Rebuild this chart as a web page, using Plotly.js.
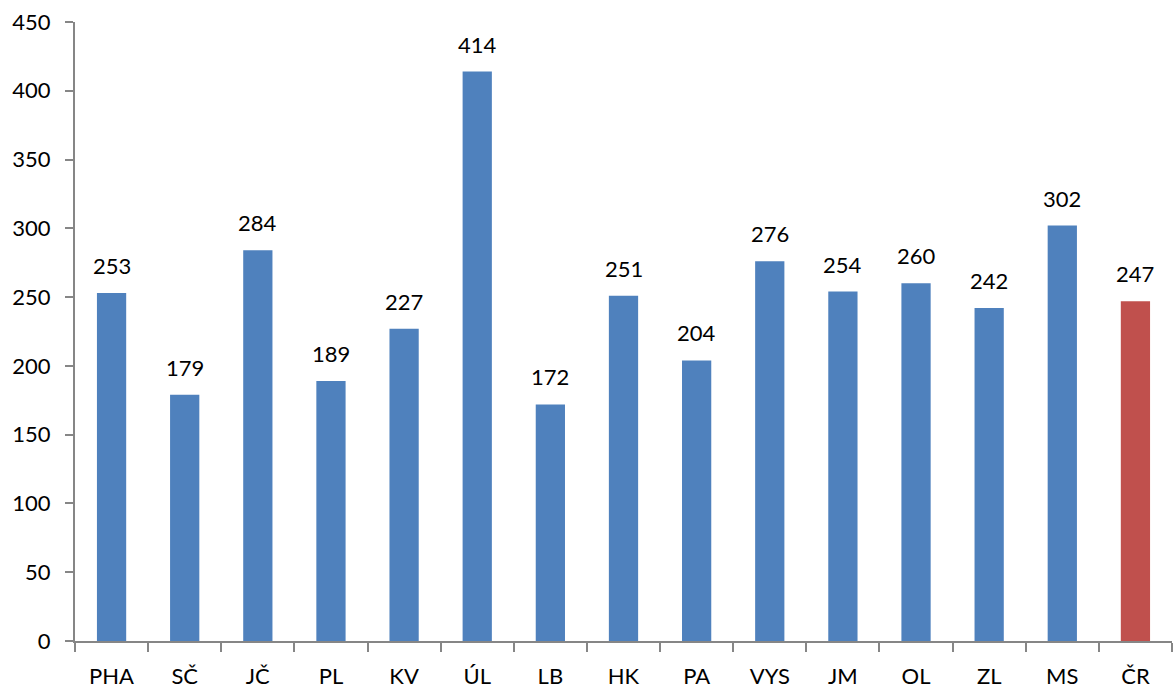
<!DOCTYPE html>
<html><head><meta charset="utf-8">
<script src="https://cdn.plot.ly/plotly-3.0.1.min.js"></script>
<style>html,body{margin:0;padding:0;background:#fff}#chart{width:1173px;height:688px}</style>
</head><body><div id="chart"></div>
<script>
const categories = ["PHA","SČ","JČ","PL","KV","ÚL","LB","HK","PA","VYS","JM","OL","ZL","MS","ČR"];
const values = [253,179,284,189,227,414,172,251,204,276,254,260,242,302,247];
const colors = categories.map(c => c === "ČR" ? "#C0504D" : "#4F81BD");
const font = {family: "Lato, 'Open Sans', sans-serif", size: 22, color: "#000"};
const annotations = categories.map((c, i) => ({
  x: c, y: values[i], xref: "x", yref: "y", text: String(values[i]),
  showarrow: false, yanchor: "bottom", yshift: 12, font: font
}));
Plotly.newPlot("chart", [{
  type: "bar", x: categories, y: values,
  marker: {color: colors}, hoverinfo: "skip"
}], {
  width: 1173, height: 688,
  margin: {l: 75, r: 1, t: 22, b: 47},
  paper_bgcolor: "#fff", plot_bgcolor: "#fff",
  bargap: 0.6, showlegend: false, font: font,
  annotations: annotations,
  xaxis: {type: "category", showline: true, linecolor: "#868686", linewidth: 2,
    ticks: "outside", tickson: "boundaries", ticklen: 9, tickcolor: "#868686", tickwidth: 2,
    ticklabelstandoff: 15,
    showgrid: false, tickfont: font, fixedrange: true},
  yaxis: {range: [0, 450], dtick: 50, showline: true, linecolor: "#868686", linewidth: 2,
    ticks: "outside", ticklen: 8, tickcolor: "#868686", tickwidth: 2,
    ticklabelstandoff: 10,
    showgrid: false, zeroline: false, tickfont: font, fixedrange: true}
}, {displayModeBar: false, staticPlot: true});
</script></body></html>
